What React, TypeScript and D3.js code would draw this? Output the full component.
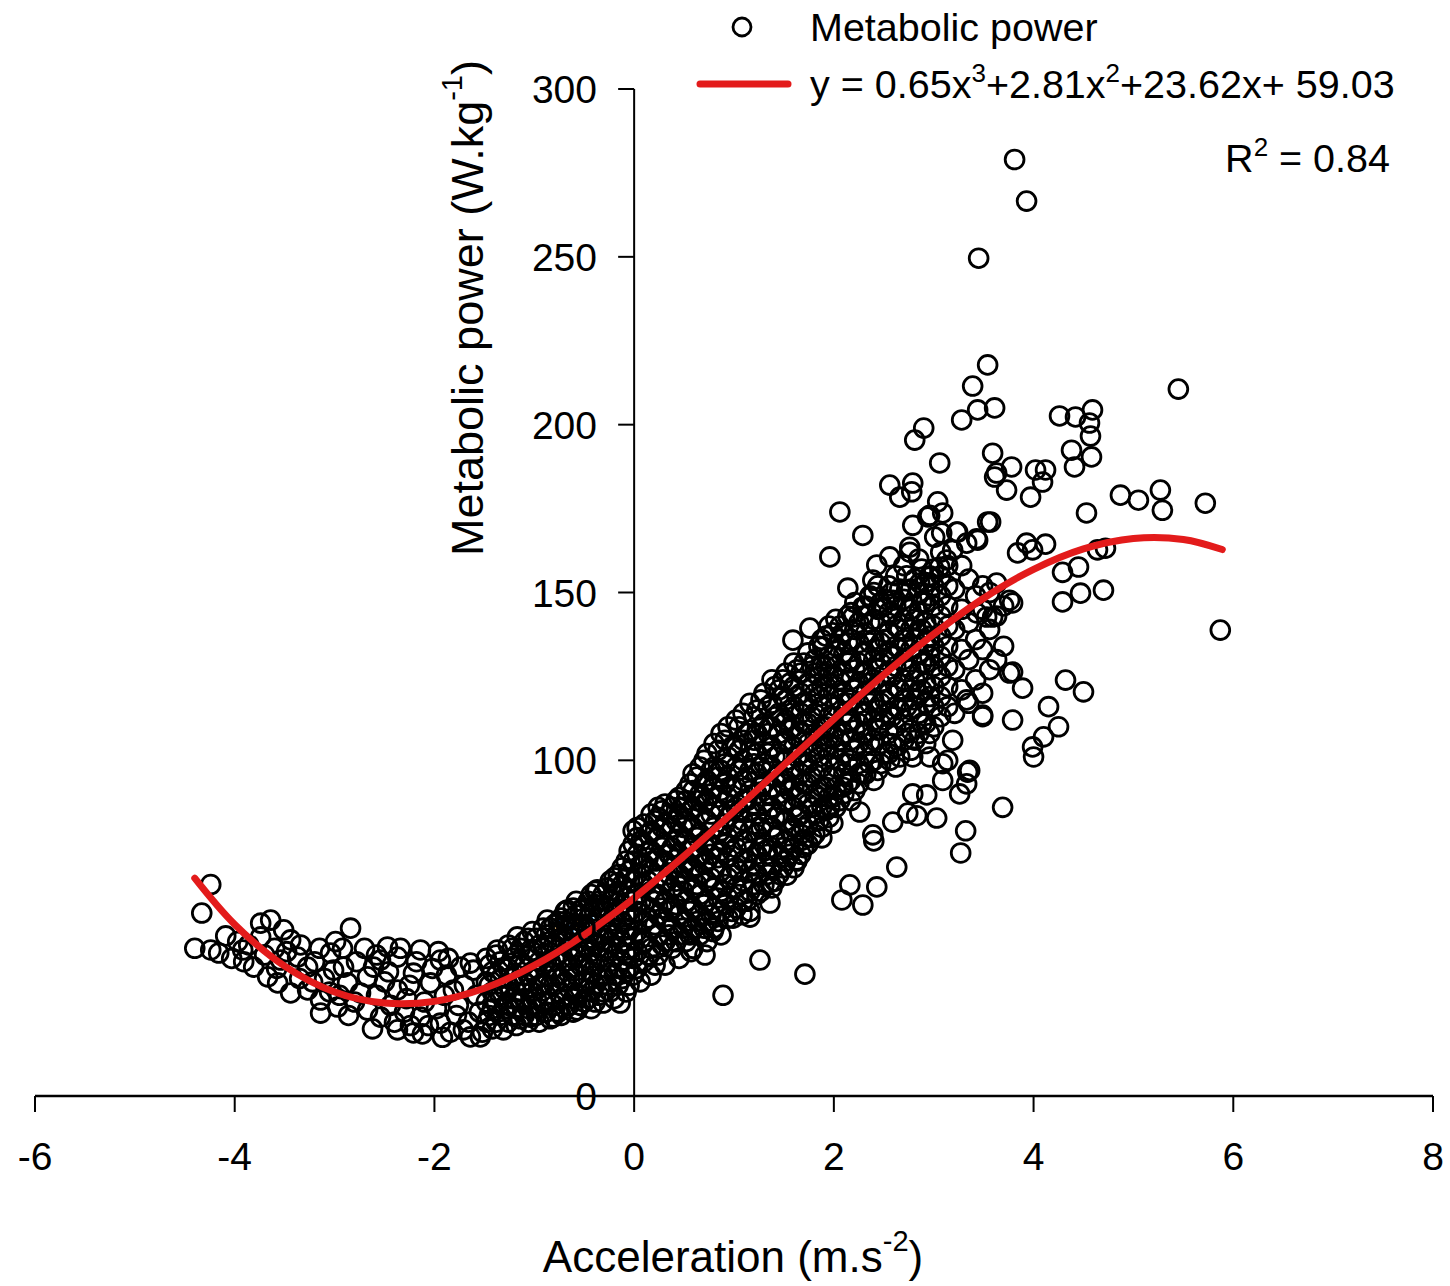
import React from "react";
import * as d3 from "d3";

// ---------- axis ticks ----------
const xTicks = [-6, -4, -2, 0, 2, 4, 6, 8];
const yTicks = [0, 50, 100, 150, 200, 250, 300];

// ---------- fitted curve ----------
const fitX = [-4.4, -4, -3.5, -3, -2.5, -2, -1.5, -1, -0.5, 0, 0.5, 1, 1.5, 2, 2.5, 3, 3.5, 4, 4.5, 5, 5.5, 5.89];
const fitY = [64.9, 51.1, 38.7, 31.0, 27.7, 28.2, 32.1, 38.9, 48.0, 59.0, 71.5, 84.8, 98.6, 112.3, 125.5, 137.6, 148.3, 156.9, 163.0, 166.1, 165.8, 162.8];

// ---------- scatter: left cluster ----------
const leftCluster: [number, number][] = [
  [-4.4, 44], [-4.33, 54.5], [-4.24, 63], [-4.24, 43.5], [-4.16, 42.6], [-4.09, 47.7], [-4.03, 41], [-3.97, 46],
  [-3.92, 43.5], [-3.91, 40], [-3.86, 45], [-3.81, 38.4], [-3.74, 51.5], [-3.74, 47.4], [-3.7, 42], [-3.67, 35.5],
  [-3.64, 52.4], [-3.6, 44], [-3.58, 38], [-3.57, 33.7], [-3.54, 40.5], [-3.51, 49.5], [-3.48, 43], [-3.44, 46.5],
  [-3.44, 30.7], [-3.37, 41.4], [-3.35, 35], [-3.34, 45], [-3.27, 38.4], [-3.27, 31.6], [-3.22, 34], [-3.2, 40],
  [-3.15, 44], [-3.14, 28.6], [-3.14, 24.7], [-3.1, 35], [-3.05, 31], [-3.04, 42.6], [-3.01, 37.5], [-2.99, 46],
  [-2.97, 26.5], [-2.95, 30], [-2.92, 44], [-2.91, 38.4], [-2.87, 33.7], [-2.86, 24], [-2.84, 50], [-2.8, 28],
  [-2.78, 40], [-2.74, 30.7], [-2.7, 44], [-2.67, 35.5], [-2.67, 25.6], [-2.62, 20], [-2.61, 38.4], [-2.58, 30],
  [-2.58, 42], [-2.54, 40.5], [-2.54, 23.5], [-2.5, 34], [-2.47, 44.4], [-2.46, 37], [-2.44, 27], [-2.4, 22],
  [-2.37, 41.4], [-2.37, 31.6], [-2.37, 19.7], [-2.34, 44], [-2.3, 25], [-2.28, 29], [-2.25, 33], [-2.24, 21],
  [-2.21, 36.6], [-2.21, 18.8], [-2.18, 40], [-2.14, 43.5], [-2.14, 23.5], [-2.12, 18.5], [-2.1, 28], [-2.06, 21],
  [-2.04, 33.7], [-2.02, 38], [-1.98, 26], [-1.96, 43], [-1.94, 40.5], [-1.94, 21.7], [-1.92, 17.5], [-1.9, 30],
  [-1.88, 36], [-1.86, 41], [-1.84, 19], [-1.81, 31.6], [-1.78, 24], [-1.76, 27], [-1.74, 38.4], [-1.71, 19.7],
  [-1.7, 33], [-1.66, 22], [-1.64, 17.6], [-1.61, 37.5], [-1.58, 30], [-1.55, 25], [-1.52, 19],
];

// ---------- scatter: dense band, as [x, y-values] ----------
const bandGroups: [number, number[]][] = [
  [-1.64, [39.6]], [-1.54, [17.6]], [-1.37, [43.5]], [-1.31, [19.7]], [-1.17, [47.4]], [-1.04, [23.5]],
  [-0.87, [52.4]], [-0.81, [23.5]], [-0.67, [55.4]], [-0.57, [25.6]], [-0.54, [55.4]], [-0.37, [61.4]],
  [-0.31, [27.7]], [-0.17, [63.5]], [-0.14, [27.7]], [0.06, [34]],
  [-1.48, [22, 28, 34, 41]],
  [-1.42, [20, 26, 31, 37]],
  [-1.34, [24, 30, 35, 40]],
  [-1.26, [22, 27, 33, 38, 45]],
  [-1.18, [21, 26, 31, 36, 42]],
  [-1.1, [24, 29, 34, 39, 46]],
  [-1.02, [27, 31, 37, 43, 49]],
  [-0.95, [22, 26, 33, 40, 45]],
  [-0.88, [25, 30, 36, 42, 48]],
  [-0.8, [27, 33, 38, 45, 51]],
  [-0.73, [24, 29, 35, 41, 47, 53]],
  [-0.65, [27, 32, 38, 44, 50]],
  [-0.58, [30, 36, 42, 48, 54, 58]],
  [-0.5, [28, 34, 39, 45, 51, 56]],
  [-0.43, [26, 31, 37, 43, 49, 55, 60]],
  [-0.35, [30, 35, 41, 47, 53, 58]],
  [-0.27, [33, 38, 44, 50, 56, 62]],
  [-0.2, [29, 36, 42, 48, 54, 60, 65]],
  [-0.12, [35, 40, 46, 52, 57, 63, 68]],
  [-0.05, [33, 38, 44, 50, 55, 61, 67, 73]],
  [0.03, [38, 43, 49, 55, 60, 66, 72, 77, 80]],
  [0.1, [40, 46, 52, 57, 63, 69, 75, 81]],
  [0.17, [36, 44, 50, 56, 61, 67, 73, 79, 84]],
  [0.24, [42, 48, 54, 60, 65, 71, 77, 83, 86]],
  [0.31, [39, 46, 52, 58, 64, 70, 75, 81, 87]],
  [0.38, [44, 50, 56, 62, 68, 74, 80, 86]],
  [0.45, [41, 48, 54, 60, 66, 72, 78, 84, 89]],
  [0.52, [46, 52, 58, 64, 70, 76, 82, 88, 91]],
  [0.59, [44, 50, 56, 62, 68, 74, 80, 86, 91, 96]],
  [0.66, [48, 54, 60, 66, 72, 78, 84, 90, 98]],
  [0.73, [46, 52, 58, 64, 70, 76, 82, 88, 94, 102]],
  [0.8, [50, 56, 62, 68, 74, 80, 86, 92, 98, 105]],
  [0.87, [48, 55, 61, 67, 73, 79, 85, 91, 97, 108]],
  [0.94, [53, 59, 65, 71, 77, 83, 89, 95, 101, 110]],
  [1.02, [56, 62, 68, 74, 80, 86, 92, 98, 104, 112]],
  [1.09, [58, 64, 70, 76, 82, 88, 94, 100, 106, 114]],
  [1.16, [55, 61, 67, 73, 79, 85, 91, 97, 103, 109, 117]],
  [1.23, [60, 66, 72, 78, 84, 90, 96, 102, 108, 115]],
  [1.3, [63, 69, 75, 81, 87, 93, 99, 105, 111, 120]],
  [1.38, [62, 68, 74, 80, 86, 92, 98, 104, 110, 117, 124]],
  [1.45, [66, 72, 78, 84, 90, 96, 102, 108, 114, 121]],
  [1.52, [70, 76, 82, 88, 94, 100, 106, 112, 118, 126]],
  [1.6, [68, 74, 80, 86, 92, 98, 104, 110, 116, 122, 129]],
  [1.67, [72, 78, 84, 90, 96, 102, 108, 114, 120, 126]],
  [1.74, [75, 81, 87, 93, 99, 105, 111, 117, 123, 132]],
  [1.81, [78, 84, 90, 96, 102, 108, 114, 120, 126, 130]],
  [1.88, [80, 86, 92, 98, 104, 110, 116, 122, 128, 136]],
  [1.95, [83, 89, 95, 101, 107, 113, 119, 125, 131, 140]],
  [2.02, [86, 92, 98, 104, 110, 116, 122, 128, 134, 142]],
  [2.1, [90, 96, 102, 108, 114, 120, 126, 132, 138]],
  [2.17, [88, 94, 100, 106, 112, 118, 124, 130, 136, 144]],
  [2.25, [93, 99, 105, 111, 117, 123, 129, 135, 141]],
  [2.32, [96, 102, 108, 114, 120, 126, 132, 138, 146]],
  [2.4, [94, 100, 106, 112, 118, 124, 130, 136, 142, 150]],
  [2.47, [99, 105, 111, 117, 123, 129, 135, 141, 147]],
  [2.55, [102, 108, 114, 120, 126, 132, 138, 144, 152]],
  [2.62, [98, 104, 110, 116, 122, 128, 134, 140, 146, 155]],
  [2.7, [106, 112, 118, 124, 130, 136, 142, 148, 158]],
  [2.77, [103, 109, 115, 121, 127, 133, 139, 145, 151]],
  [2.85, [108, 114, 120, 126, 132, 138, 144, 150, 160]],
  [2.92, [105, 111, 117, 123, 129, 135, 141, 147, 153]],
  [3.0, [110, 116, 122, 128, 134, 140, 146, 152, 157]],
  [3.07, [113, 119, 125, 131, 137, 143, 149, 155, 162]],
  [3.14, [116, 122, 128, 134, 140, 146, 152, 158]],
  [3.21, [114, 127, 139, 151]],
  [3.28, [121, 133, 145, 158]],
  [3.35, [117, 130, 141, 154]],
  [3.42, [124, 136, 149]],
  [3.49, [120, 133, 145, 152]],
  [3.56, [127, 139, 150]],
  [3.63, [130, 143]],
  [3.7, [134, 146]],
];

// ---------- scatter: extra points filling the darkest part of the band ----------
const bandFill: [number, number[]][] = [
  [-1.45, [24, 33, 39]], [-1.38, [22, 28, 36, 42]], [-1.3, [26, 32, 38]], [-1.22, [24, 29, 35, 41, 44]],
  [-1.14, [23, 28, 33, 40, 44]], [-1.06, [22, 26, 32, 36, 42, 47]], [-0.98, [24, 29, 35, 38, 47]],
  [-0.91, [28, 33, 39, 44, 50]], [-0.84, [23, 28, 33, 40, 46, 50]], [-0.76, [25, 31, 36, 42, 49, 52]],
  [-0.69, [26, 34, 40, 46, 52, 55]], [-0.61, [25, 29, 35, 41, 47, 51, 56]], [-0.54, [27, 32, 39, 43, 50, 54]],
  [-0.46, [29, 35, 41, 47, 53, 58]], [-0.39, [28, 33, 39, 45, 51, 57, 61]], [-0.31, [31, 36, 43, 48, 55, 60]],
  [-0.24, [31, 40, 46, 52, 58, 64]], [-0.16, [33, 38, 44, 50, 55, 61, 66]], [-0.08, [31, 37, 42, 48, 54, 59, 65, 70]],
  [-0.01, [36, 41, 47, 53, 58, 64, 70, 75, 79]],
  [0.07, [47, 58, 69, 76]], [0.14, [42, 53, 64, 71, 78]], [0.21, [39, 51, 58, 70, 82]], [0.28, [45, 56, 63, 74, 80, 85]],
  [0.35, [48, 55, 66, 72, 84]], [0.42, [46, 57, 64, 76, 82, 88]], [0.49, [50, 61, 68, 80, 86]],
  [0.56, [48, 55, 67, 73, 85, 93]], [0.63, [52, 63, 71, 77, 88, 95]], [0.7, [50, 57, 69, 75, 87, 93, 100]],
  [0.77, [54, 65, 72, 84, 90, 97]], [0.84, [52, 59, 71, 78, 89, 95, 103]], [0.91, [57, 63, 75, 81, 93, 99, 106]],
  [0.98, [55, 66, 73, 85, 92, 104]], [1.05, [60, 67, 79, 85, 97, 103, 110]], [1.13, [58, 70, 76, 88, 95, 108]],
  [1.2, [63, 69, 81, 87, 99, 106, 113]], [1.27, [61, 74, 80, 92, 98, 110, 118]], [1.34, [66, 72, 84, 90, 102, 108, 116]],
  [1.41, [64, 77, 83, 95, 101, 113, 122]], [1.49, [68, 74, 87, 93, 105, 111, 119, 124]],
  [1.56, [72, 79, 91, 97, 109, 115, 123]], [1.63, [70, 83, 89, 101, 107, 119, 127]],
  [1.7, [74, 80, 93, 99, 111, 117, 129]], [1.78, [77, 86, 95, 104, 113, 122, 128]],
  [1.85, [82, 89, 101, 107, 119, 125, 134]], [1.92, [85, 92, 104, 110, 122, 128, 137]],
  [1.99, [89, 95, 107, 113, 125, 131, 138]], [2.06, [88, 100, 106, 118, 124, 136, 140]],
  [2.14, [93, 99, 111, 117, 129, 135, 143]], [2.21, [91, 103, 109, 121, 127, 139, 147]],
  [2.29, [96, 108, 114, 126, 132, 143]], [2.36, [99, 105, 117, 123, 135, 141, 149]],
  [2.44, [97, 109, 115, 127, 133, 145, 152]], [2.51, [102, 112, 118, 130, 136, 148]],
  [2.58, [105, 113, 125, 131, 143, 150]], [2.66, [101, 115, 121, 133, 139, 151]],
  [2.73, [108, 116, 128, 134, 146, 155]], [2.81, [106, 118, 124, 136, 142, 154]],
  [2.88, [111, 121, 129, 139, 147, 157]], [2.96, [108, 119, 131, 137, 149, 155]],
];

// ---------- scatter: loose points around the band ----------
const midScatter: [number, number][] = [
  [0.71, 42], [0.57, 43], [0.79, 49], [0.99, 53], [1.08, 54], [0.89, 30],
  [2.9, 199], [2.81, 195.4], [3.06, 188.6], [2.56, 182], [2.79, 182.6], [2.66, 178.4], [2.78, 180], [2.06, 174],
  [2.29, 167], [3.04, 177], [2.94, 172.5], [3.09, 173.7], [2.79, 170], [3.08, 167.7], [3.01, 166.5], [2.76, 163.5],
  [1.96, 160.6], [2.14, 151.3], [2.43, 158.2], [2.56, 160.6], [2.76, 162], [2.96, 173], [3.23, 168], [3.33, 164.7],
  [3.43, 166], [3.54, 171], [3.93, 164.7], [2.39, 153.7], [2.36, 148.6], [2.59, 147.7], [2.73, 150.7], [2.86, 152.8],
  [2.96, 154.6], [3.06, 157.6], [3.13, 159.7], [3.19, 162.6], [3.63, 152.8], [3.76, 147.7], [3.43, 143.9], [3.53, 142.7],
  [1.59, 135.8], [1.76, 139.4], [1.89, 133.8], [2.09, 138], [2.19, 142.7], [2.29, 145.7], [2.49, 145.7],
  [3.76, 126], [3.49, 113], [3.33, 118], [3.19, 106], [2.79, 101], [2.96, 101], [3.09, 99], [3.36, 97], [2.79, 90],
  [2.26, 84.6], [2.39, 77.8], [2.4, 76], [2.63, 68.2], [2.16, 62.9], [2.08, 58.4], [2.29, 56.9], [2.43, 62.3],
  [1.26, 40.5], [1.71, 36.3], [2.59, 81.6], [2.74, 84.3], [2.83, 83.5], [3.03, 82.8], [2.93, 89.7], [3.09, 94],
  [3.14, 100], [3.33, 93], [3.26, 90], [1.66, 83.7], [1.69, 76.3], [1.63, 70.3], [1.53, 65.8], [1.36, 63.5],
  [1.36, 57.5], [1.33, 73.3], [1.16, 53.3], [1.99, 81.3], [1.88, 76.9], [1.96, 86], [2.09, 92], [2.26, 96.2], [2.56, 100],
];

// ---------- scatter: right-hand spread and outliers ----------
const rightScatter: [number, number][] = [
  [3.81, 279], [3.93, 266.6], [3.45, 249.6], [3.54, 217.8], [3.39, 211.5], [3.44, 204.4], [3.61, 205], [3.28, 201.4],
  [4.26, 202.6], [4.42, 202.3], [4.59, 204.4], [4.56, 200.5], [4.57, 196.6], [4.38, 192.4], [4.58, 190.4], [3.59, 191.5],
  [4.41, 187.4], [5.45, 210.6], [3.78, 187.4], [4.02, 186.5], [4.12, 186.5], [3.63, 185.6], [3.61, 184.4], [3.73, 180.5],
  [3.97, 178.4], [4.09, 182.9], [4.87, 179], [5.05, 177.5], [5.27, 180.5], [5.29, 174.5], [5.72, 176.6], [4.53, 173.7],
  [3.57, 171], [3.24, 168], [3.44, 165.6], [3.84, 161.8], [3.99, 162.7], [4.12, 164.4], [4.29, 156], [4.45, 157.6],
  [4.64, 162.7], [4.72, 163.2], [4.29, 147.2], [4.47, 149.8], [4.7, 150.7], [3.79, 146.9], [3.59, 142.7], [5.87, 138.8],
  [3.79, 126.3], [3.89, 121.5], [4.32, 123.9], [4.5, 120.4], [4.15, 116], [4.25, 110], [4.1, 107], [3.99, 104],
  [4.0, 101], [3.79, 112], [3.49, 113.5], [3.34, 96.5], [3.69, 86], [3.32, 79], [3.27, 72.4],
];

const W = 1450;
const H = 1286;
const FONT = "'Liberation Sans', Arial, sans-serif";

export default function App() {
  const x = d3.scaleLinear().domain([-6, 8]).range([35, 1433]);
  const y = d3.scaleLinear().domain([0, 300]).range([1096, 89]);

  const unpack = (groups: [number, number[]][]) =>
    groups.flatMap(([gx, ys]) => ys.map((v) => [gx, v] as [number, number]));

  const points: [number, number][] = [
    ...leftCluster,
    ...unpack(bandGroups),
    ...unpack(bandFill),
    ...midScatter,
    ...rightScatter,
  ];

  const fit = fitX.map((v, i) => [v, fitY[i]] as [number, number]);
  const line = d3
    .line<[number, number]>()
    .x((d) => x(d[0]))
    .y((d) => y(d[1]))
    .curve(d3.curveCatmullRom);

  const x0 = x(0);
  const yBase = y(0);

  return (
    <svg
      width={W}
      height={H}
      style={{ position: "absolute", left: 0, top: 0, background: "#fff" }}
      fontFamily={FONT}
    >
      <rect x={0} y={0} width={W} height={H} fill="#fff" />

      {/* points */}
      <g fill="none" stroke="#000" strokeWidth={2.8}>
        {points.map((p, i) => (
          <circle key={i} cx={x(p[0])} cy={y(p[1])} r={9.4} />
        ))}
      </g>

      {/* fitted curve */}
      <path d={line(fit) || ""} fill="none" stroke="#e31b1b" strokeWidth={7} strokeLinecap="round" />

      {/* x axis */}
      <line x1={x(-6)} x2={x(8)} y1={yBase} y2={yBase} stroke="#000" strokeWidth={2.5} />
      {xTicks.map((t) => (
        <g key={t}>
          <line x1={x(t)} x2={x(t)} y1={yBase} y2={yBase + 16} stroke="#000" strokeWidth={2} />
          <text x={x(t)} y={1170} textAnchor="middle" fontSize={39} fill="#000">
            {t}
          </text>
        </g>
      ))}

      {/* y axis */}
      <line x1={x0} x2={x0} y1={y(300)} y2={yBase} stroke="#000" strokeWidth={2} />
      {yTicks.map((t) => (
        <g key={t}>
          <line x1={x0 - 16} x2={x0} y1={y(t)} y2={y(t)} stroke="#000" strokeWidth={2} />
          <text x={597} y={y(t) + 14} textAnchor="end" fontSize={39} fill="#000">
            {t}
          </text>
        </g>
      ))}

      {/* axis titles */}
      <text x={733} y={1272} textAnchor="middle" fontSize={44} fill="#000">
        Acceleration (m.s
        <tspan fontSize={29} dy={-21}>-2</tspan>
        <tspan dy={21}>)</tspan>
      </text>
      <text
        transform={`translate(483, 308) rotate(-90)`}
        textAnchor="middle"
        fontSize={45}
        fill="#000"
      >
        Metabolic power (W.kg
        <tspan fontSize={29} dy={-21}>-1</tspan>
        <tspan dy={21}>)</tspan>
      </text>

      {/* legend */}
      <circle cx={742} cy={27} r={9} fill="none" stroke="#000" strokeWidth={2.8} />
      <text x={810} y={41} fontSize={39.5} fill="#000">
        Metabolic power
      </text>
      <line x1={700} x2={788} y1={84} y2={84} stroke="#e31b1b" strokeWidth={7} strokeLinecap="round" />
      <text x={810} y={98} fontSize={39.5} fill="#000">
        y = 0.65x<tspan fontSize={26} dy={-16}>3</tspan>
        <tspan dy={16}>+2.81x</tspan>
        <tspan fontSize={26} dy={-16}>2</tspan>
        <tspan dy={16}>+23.62x+ 59.03</tspan>
      </text>
      <text x={1390} y={172} textAnchor="end" fontSize={39.5} fill="#000">
        R<tspan fontSize={26} dy={-16}>2</tspan>
        <tspan dy={16}> = 0.84</tspan>
      </text>
    </svg>
  );
}
